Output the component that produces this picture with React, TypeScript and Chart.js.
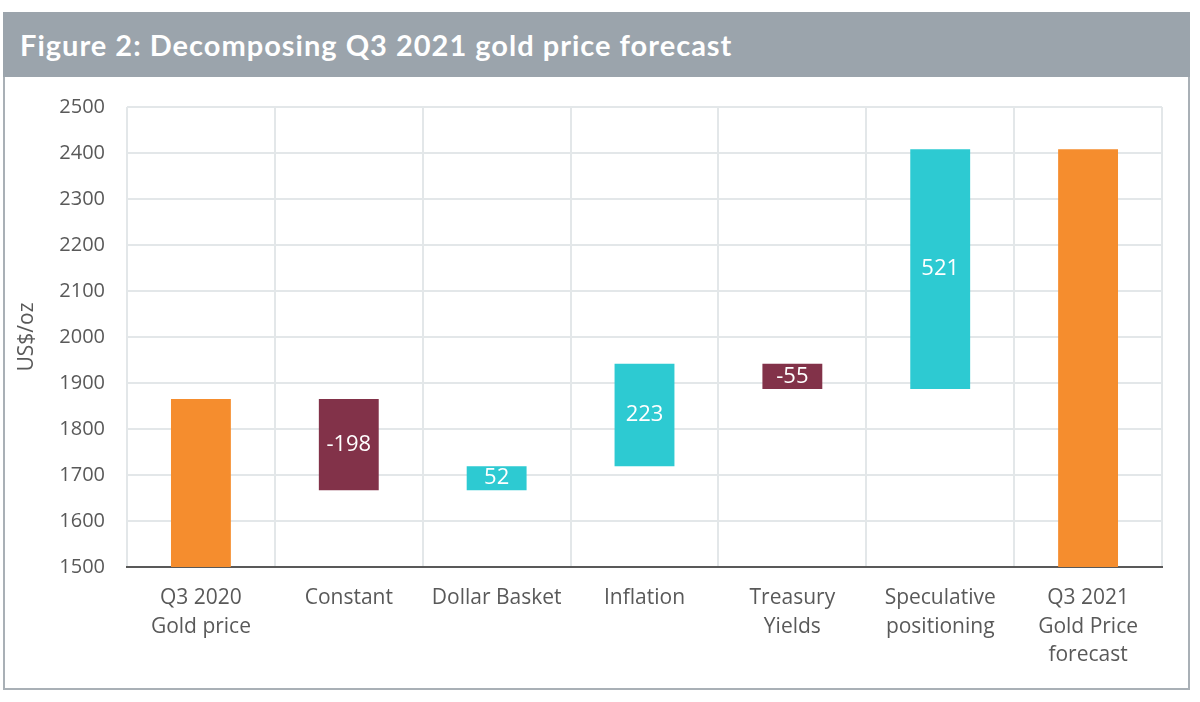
import { useEffect, useRef } from "react";
import Chart from "chart.js/auto";

const categories = [
  ["Q3 2020", "Gold price"],
  ["Constant"],
  ["Dollar Basket"],
  ["Inflation"],
  ["Treasury", "Yields"],
  ["Speculative", "positioning"],
  ["Q3 2021", "Gold Price", "forecast"],
];

const startPrice = 1865;
const drivers = [-198, 52, 223, -55, 521];
const yTicks = [1500, 1600, 1700, 1800, 1900, 2000, 2100, 2200, 2300, 2400, 2500];

const ORANGE = "#F58D2E";
const MAROON = "#823249";
const CYAN = "#2DCAD2";
const GREY_TEXT = "#595959";
const GRID = "#E3E7E9";
const FONT = "'Open Sans', sans-serif";

// running total -> floating bars
const buildBars = () => {
  const bars: [number, number][] = [[1500, startPrice]];
  const colors: string[] = [ORANGE];
  let level = startPrice;
  drivers.forEach((d) => {
    bars.push([level, level + d]);
    colors.push(d < 0 ? MAROON : CYAN);
    level += d;
  });
  bars.push([1500, level]);
  colors.push(ORANGE);
  return { bars, colors };
};

const App = () => {
  const chartRef = useRef<HTMLCanvasElement | null>(null);
  const chartInstance = useRef<Chart | null>(null);

  useEffect(() => {
    document.body.style.margin = "0";
    if (!chartRef.current) return;
    const ctx = chartRef.current.getContext("2d");
    if (!ctx) return;

    const { bars, colors } = buildBars();

    const barLabels = {
      id: "barLabels",
      afterDatasetsDraw(chart: Chart) {
        const meta = chart.getDatasetMeta(0);
        const c = chart.ctx;
        c.save();
        c.fillStyle = "#ffffff";
        c.font = `22px ${FONT}`;
        c.textAlign = "center";
        c.textBaseline = "middle";
        drivers.forEach((d, i) => {
          const el: any = meta.data[i + 1];
          const p = el.getCenterPoint();
          c.fillText(String(d), p.x, p.y);
        });
        c.restore();
      },
    };

    chartInstance.current = new Chart(ctx, {
      type: "bar",
      data: {
        labels: categories,
        datasets: [
          {
            data: bars as any,
            backgroundColor: colors,
            borderWidth: 0,
            barPercentage: 0.405,
            categoryPercentage: 1,
          },
        ],
      },
      options: {
        animation: false,
        responsive: false,
        maintainAspectRatio: false,
        layout: { padding: { top: 107, right: 38, left: 0, bottom: 0 } },
        plugins: {
          legend: { display: false },
          tooltip: { enabled: false },
        },
        scales: {
          x: {
            grid: { color: GRID, lineWidth: 2, drawTicks: false, offset: true },
            border: { color: GREY_TEXT, width: 2 },
            ticks: {
              color: GREY_TEXT,
              font: { family: FONT, size: 21, lineHeight: 1.35 },
              padding: 17,
              maxRotation: 0,
              autoSkip: false,
            },
            afterFit: (s: any) => {
              s.height = 702 - 567;
            },
          },
          y: {
            min: 1500,
            max: 2500,
            afterBuildTicks: (s: any) => {
              s.ticks = yTicks.map((v) => ({ value: v }));
            },
            grid: { color: GRID, lineWidth: 2, drawTicks: false },
            border: { display: false },
            ticks: {
              color: GREY_TEXT,
              font: { family: FONT, size: 20 },
              padding: 22,
              callback: (v: any) => String(v),
            },
            title: {
              display: true,
              text: "US$/oz",
              color: GREY_TEXT,
              font: { family: FONT, size: 21 },
              padding: { top: 14, bottom: 0 },
            },
            afterFit: (s: any) => {
              s.width = 127;
            },
          },
        },
      },
      plugins: [barLabels],
    });

    return () => {
      if (chartInstance.current) {
        chartInstance.current.destroy();
      }
    };
  }, []);

  return (
    <div style={{ position: "relative", width: 1200, height: 702, background: "#fff", overflow: "hidden" }}>
      <div
        style={{
          position: "absolute",
          left: 3,
          top: 12,
          width: 1187,
          height: 678,
          border: "2px solid #A9B0B6",
          boxSizing: "border-box",
        }}
      />
      <div
        style={{
          position: "absolute",
          left: 3,
          top: 12,
          width: 1187,
          height: 65,
          background: "#9BA4AC",
          color: "#fff",
          fontFamily: "Lato, sans-serif",
          fontWeight: 700,
          fontSize: 29,
          letterSpacing: "1px",
          lineHeight: "65px",
          paddingLeft: 17,
          boxSizing: "border-box",
        }}
      >
        Figure 2: Decomposing Q3 2021 gold price forecast
      </div>
      <canvas
        ref={chartRef}
        width={1200}
        height={702}
        style={{ position: "absolute", left: 0, top: 0 }}
      ></canvas>
    </div>
  );
};

export default App;
